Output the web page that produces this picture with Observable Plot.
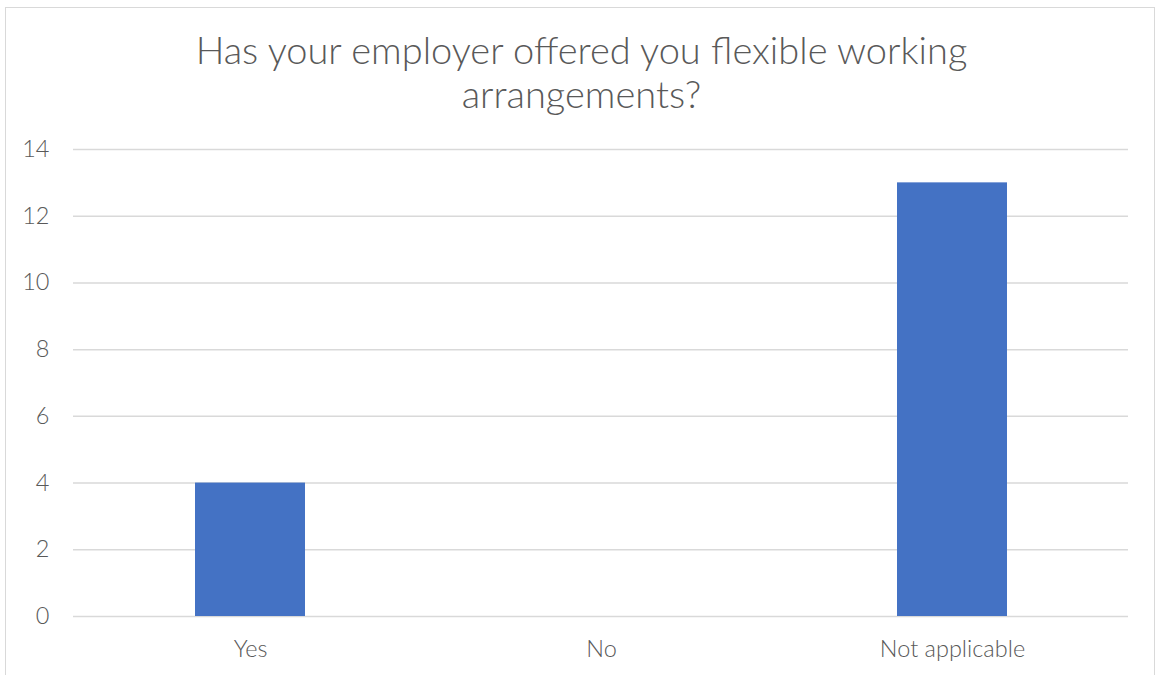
<!DOCTYPE html>
<html>
<head>
<meta charset="utf-8">
<script src="https://cdn.jsdelivr.net/npm/d3@7"></script>
<script src="https://cdn.jsdelivr.net/npm/@observablehq/plot@0.6"></script>
<style>
  html, body { margin: 0; padding: 0; background: #fff; }
  body { width: 1157px; height: 675px; overflow: hidden; position: relative; font-family: Lato, "Open Sans", sans-serif; }
  #frame { position: absolute; left: 5px; top: 7px; width: 1150px; height: 700px; border: 1.5px solid #d9d9d9; box-sizing: border-box; }
  #title { position: absolute; left: 5px; width: 1153px; top: 27px; text-align: center; font-family: Lato, sans-serif; font-weight: 300; font-size: 38px; line-height: 44px; color: #595959; }
  #chart { position: absolute; left: 0; top: 130px; }
</style>
</head>
<body>
<div id="frame"></div>
<div id="title">Has your employer offered you flexible working<br>arrangements?</div>
<div id="chart"></div>
<script>
const categories = ["Yes", "No", "Not applicable"];
const values = [4, 0, 13];
const yTicks = [0, 2, 4, 6, 8, 10, 12, 14];

const data = categories.map((c, i) => ({category: c, value: values[i]}));

const chart = Plot.plot({
  width: 1157,
  height: 545,
  marginTop: 19,
  marginBottom: 59,
  marginLeft: 73,
  marginRight: 29,
  style: {fontFamily: "Lato, sans-serif", fontWeight: 300, fontSize: "23.5px", color: "#595959", background: "transparent"},
  x: {domain: categories, paddingInner: 0.687, paddingOuter: 0.3435, label: null},
  y: {domain: [0, 14], ticks: yTicks, label: null},
  marks: [
    Plot.gridY(yTicks, {stroke: "#d9d9d9", strokeOpacity: 1, strokeWidth: 1.5}),
    Plot.barY(data, {x: "category", y: "value", fill: "#4472C4"}),
    Plot.axisY(yTicks, {tickSize: 0, tickPadding: 24, fill: "#595959", fontSize: 23.5, label: null}),
    Plot.axisX(categories, {tickSize: 0, tickPadding: 24, fill: "#595959", fontSize: 23.5, label: null})
  ]
});
document.getElementById("chart").appendChild(chart);
</script>
</body>
</html>
